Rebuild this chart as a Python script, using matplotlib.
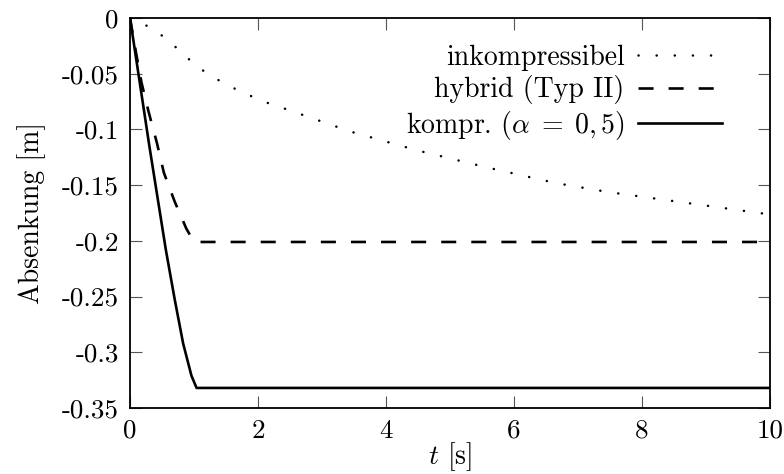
import matplotlib
matplotlib.use("Agg")
import matplotlib.pyplot as plt

plt.rcParams['mathtext.fontset'] = 'cm'
plt.rcParams['font.family'] = ['cmr10', 'DejaVu Serif']
plt.rcParams['axes.unicode_minus'] = False

# data
t_ink = [0, 0.30, 0.53, 0.73, 0.94, 1.16, 1.39, 1.64, 1.89, 2.14, 2.40, 3.45, 4.50, 5.57, 6.64, 7.45, 9.92, 10]
y_ink = [0, -0.008, -0.017, -0.027, -0.038, -0.048, -0.056, -0.0635, -0.070, -0.076, -0.081,
         -0.102, -0.119, -0.134, -0.148, -0.156, -0.1757, -0.1773]
t_hyb = [0, 0.10, 0.18, 0.29, 0.42, 0.53, 0.70, 0.88, 1.0, 10]
y_hyb = [0, -0.033, -0.058, -0.084, -0.112, -0.139, -0.165, -0.189, -0.201, -0.201]
t_kom = [0, 0.30, 0.56, 0.70, 0.83, 0.96, 1.04, 10]
y_kom = [0, -0.114, -0.208, -0.253, -0.292, -0.321, -0.332, -0.332]

labels = ['inkompressibel', 'hybrid (Typ II)', r'kompr. ($\alpha\;=\;0,5$)']
xticks = [0, 2, 4, 6, 8, 10]
xticklabels = ['0', '2', '4', '6', '8', '10']
yticks = [0, -0.05, -0.1, -0.15, -0.2, -0.25, -0.3, -0.35]
yticklabels = ['0', '-0.05', '-0.1', '-0.15', '-0.2', '-0.25', '-0.3', '-0.35']

fig = plt.figure(figsize=(7.84, 4.74), dpi=100)
ax = fig.add_axes([130/784, 1-408/474, 640/784, 390/474])

ax.plot(t_ink, y_ink, color='black', lw=1.8, linestyle=(0, (0.05, 7.2)),
        dash_capstyle='round', label=labels[0])
ax.plot(t_hyb, y_hyb, color='black', lw=1.9, linestyle=(0, (5.7, 5.7)),
        dash_capstyle='butt', label=labels[1])
ax.plot(t_kom, y_kom, color='black', lw=1.9, label=labels[2])

ax.set_xlim(0, 10)
ax.set_ylim(-0.35, 0)
ax.set_xticks(xticks)
ax.set_xticklabels(xticklabels)
ax.set_yticks(yticks)
ax.set_yticklabels(yticklabels)
ax.tick_params(direction='in', length=8.6, width=0.8, top=True, right=True,
               labelsize=19.5, color='#555555', pad=8)
for s in ax.spines.values():
    s.set_linewidth(1.3)

ax.set_xlabel(r'$t$ [s]', fontsize=20, labelpad=-2)
ax.set_ylabel('Absenkung [m]', fontsize=20, labelpad=11)

leg = ax.legend(loc='upper right', bbox_to_anchor=(0.942, 0.96), frameon=False,
                markerfirst=False, fontsize=20, handlelength=3.0,
                handletextpad=0.5, labelspacing=0.16, borderaxespad=0)

fig.savefig('out.png', dpi=100)
